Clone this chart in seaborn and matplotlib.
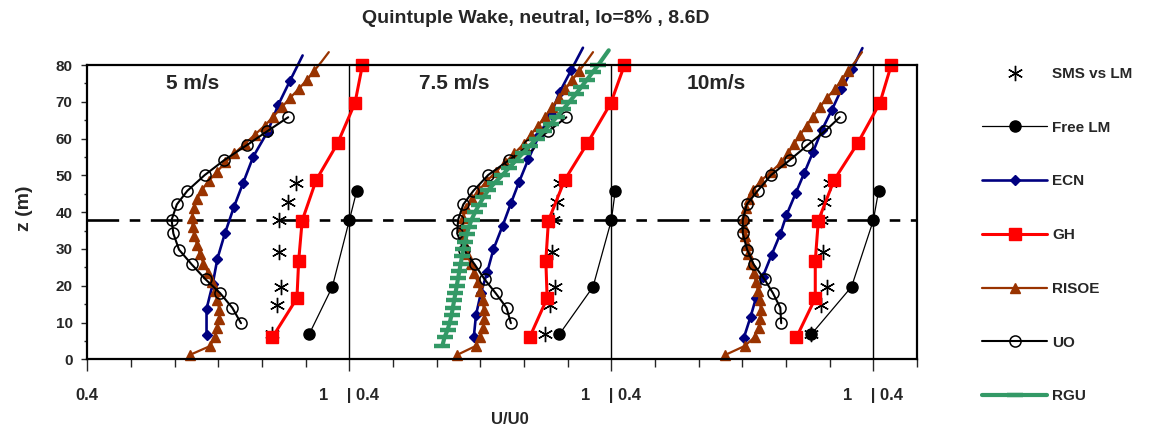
import matplotlib
matplotlib.use("Agg")
import matplotlib.pyplot as plt
from matplotlib.lines import Line2D
import seaborn as sb
import numpy as np

sb.set_style("white")
plt.rcParams['font.family'] = ['Liberation Sans', 'DejaVu Sans']
plt.rcParams['font.weight'] = 'bold'

title = "Quintuple Wake, neutral, Io=8% , 8.6D"
panelNames = ["5 m/s", "7.5 m/s", "10m/s"]
panelShift = [0.0, 0.6, 1.2]
xTickLabels = ["0.4", "1    | 0.4", "1    | 0.4", "1    | 0.4"]
hubHeight = 38

# SMS vs LM (measurements)
smsZ = [47.8, 42.8, 37.8, 29.3, 19.7, 14.8, 6.8]
smsU = [[0.878, 0.860, 0.838, 0.838, 0.844, 0.835, 0.824],
        [0.883, 0.876, 0.866, 0.864, 0.870, 0.860, 0.847],
        [0.900, 0.887, 0.881, 0.885, 0.893, 0.880, 0.858]]

# Free LM
freeZ = [45.8, 37.8, 19.7, 6.8]
freeU = [[1.017, 1.000, 0.961, 0.908],
         [1.009, 1.000, 0.958, 0.881],
         [1.012, 1.000, 0.950, 0.858]]

# ECN
ecnZ = [[6.6, 13.7, 20.4, 27.4, 34.2, 41.5, 48.0, 55.1, 61.9, 69.1, 75.7, 82.6],
        [6.0, 12.0, 17.9, 23.8, 29.9, 36.3, 42.4, 48.3, 54.4, 61.0, 66.8, 72.7, 78.6, 84.7],
        [5.7, 11.6, 16.6, 22.5, 28.4, 34.1, 39.2, 45.1, 50.7, 56.4, 62.3, 67.8, 73.4, 79.0, 84.6]]
ecnU = [[0.673, 0.673, 0.687, 0.698, 0.715, 0.736, 0.757, 0.780, 0.813, 0.837, 0.864, 0.893],
        [0.685, 0.690, 0.701, 0.716, 0.730, 0.751, 0.770, 0.789, 0.810, 0.835, 0.862, 0.882, 0.908, 0.935],
        [0.703, 0.719, 0.731, 0.747, 0.767, 0.787, 0.801, 0.822, 0.842, 0.862, 0.882, 0.905, 0.927, 0.952, 0.975]]

# GH
ghZ = [80.0, 69.7, 58.7, 48.7, 37.7, 26.8, 16.6, 6.0]
ghU = [[1.030, 1.013, 0.973, 0.924, 0.892, 0.884, 0.880, 0.824],
       [1.030, 0.999, 0.945, 0.893, 0.856, 0.850, 0.853, 0.813],
       [1.041, 1.015, 0.964, 0.910, 0.874, 0.867, 0.867, 0.824]]

# RISOE
risZ = [1.2, 3.6, 6.0, 8.5, 11.0, 13.5, 16.0, 18.5, 21.0, 23.5, 26.0, 28.5, 31.0, 33.5, 36.0, 38.5, 41.0,
        43.5, 46.0, 48.5, 51.0, 53.5, 56.0, 58.5, 61.0, 63.5, 66.0, 68.5, 71.0, 73.5, 76.0, 78.5, 81.0, 83.5]
risU = [[0.635, 0.681, 0.692, 0.698, 0.702, 0.702, 0.698, 0.692, 0.685, 0.677, 0.666, 0.658, 0.652, 0.645,
         0.641, 0.640, 0.644, 0.651, 0.662, 0.678, 0.697, 0.716, 0.737, 0.760, 0.783, 0.806, 0.826, 0.845,
         0.864, 0.884, 0.903, 0.920, 0.937, 0.953],
        [0.647, 0.689, 0.700, 0.706, 0.709, 0.708, 0.705, 0.700, 0.694, 0.686, 0.678, 0.670, 0.664, 0.661,
         0.659, 0.660, 0.668, 0.680, 0.697, 0.715, 0.736, 0.757, 0.778, 0.799, 0.815, 0.832, 0.848, 0.864,
         0.880, 0.895, 0.911, 0.927, 0.943, 0.958],
        [0.661, 0.705, 0.728, 0.737, 0.741, 0.742, 0.740, 0.736, 0.731, 0.726, 0.720, 0.714, 0.710, 0.706,
         0.703, 0.703, 0.708, 0.716, 0.725, 0.742, 0.766, 0.789, 0.805, 0.818, 0.832, 0.847, 0.862, 0.877,
         0.893, 0.912, 0.928, 0.943, 0.959, 0.974]]

# UO
uoZ = [9.8, 14.0, 18.0, 21.7, 25.8, 29.8, 34.2, 37.9, 42.1, 45.8, 50.1, 54.1, 58.2, 62.0, 65.8]
uoU = [[0.752, 0.732, 0.704, 0.671, 0.639, 0.610, 0.597, 0.593, 0.605, 0.629, 0.669, 0.713, 0.765, 0.812, 0.860],
       [0.770, 0.760, 0.735, 0.710, 0.687, 0.662, 0.647, 0.649, 0.661, 0.684, 0.718, 0.765, 0.812, 0.856, 0.897],
       [0.789, 0.787, 0.770, 0.751, 0.726, 0.711, 0.701, 0.701, 0.710, 0.735, 0.766, 0.808, 0.849, 0.889, 0.923]]

# RGU (only 7.5 m/s)
rguZ = [3.6, 6, 8, 10, 12, 14, 16, 18, 20, 22, 24, 26, 28, 30, 32, 34, 36, 38, 40, 42, 44, 46, 48, 50,
        52, 54, 56, 58, 60, 62, 64, 66, 68, 70, 72, 74, 76, 78, 80, 82, 84]
rguU = [0.613, 0.618, 0.625, 0.630, 0.634, 0.637, 0.640, 0.643, 0.646, 0.649, 0.652, 0.655, 0.658, 0.661,
        0.665, 0.669, 0.674, 0.680, 0.688, 0.697, 0.707, 0.718, 0.733, 0.750, 0.765, 0.781, 0.797, 0.813,
        0.829, 0.845, 0.861, 0.876, 0.890, 0.904, 0.918, 0.931, 0.944, 0.957, 0.970, 0.982, 0.994]

styles = {
    "SMS vs LM": dict(color="k", ls="none", marker=(6, 2, 0), ms=11, mew=1.0, mec="k"),
    "Free LM": dict(color="k", lw=0.9, marker="o", ms=8, mec="k", mfc="k", mew=1),
    "ECN": dict(color="#000080", lw=1.9, marker="D", ms=5.5, mec="#000080", mfc="#000080", mew=1),
    "GH": dict(color="#ff0000", lw=2.2, marker="s", ms=8, mec="#ff0000", mfc="#ff0000", mew=1),
    "RISOE": dict(color="#993300", lw=1.6, marker="^", ms=6.5, mec="#993300", mfc="#993300", mew=1),
    "UO": dict(color="k", lw=1.5, marker="o", ms=8, mec="k", mfc="none", mew=1.1),
    "RGU": dict(color="#339966", lw=3, marker="_", ms=11, mec="#339966", mew=3.2),
}


def drawSeries(ax, u, z, shift, name):
	x = np.array(u) + shift
	z = np.array(z, dtype=float)
	marks = [i for i in range(len(z)) if z[i] <= 80.5]
	sb.lineplot(x=x, y=z, sort=False, estimator=None, ax=ax, legend=False,
	            markevery=marks, clip_on=False, **styles[name])


fig = plt.figure(figsize=(11.49, 4.32), dpi=100)
ax = fig.add_axes([0.076, 0.1683, 0.7221, 0.6812])

for k, shift in enumerate(panelShift):
	drawSeries(ax, smsU[k], smsZ, shift, "SMS vs LM")
	drawSeries(ax, freeU[k], freeZ, shift, "Free LM")
	drawSeries(ax, ecnU[k], ecnZ[k], shift, "ECN")
	drawSeries(ax, ghU[k], ghZ, shift, "GH")
	drawSeries(ax, risU[k], risZ, shift, "RISOE")
	drawSeries(ax, uoU[k], uoZ, shift, "UO")
	if k == 1:
		drawSeries(ax, rguU, rguZ, shift, "RGU")
	ax.text(0.64 + shift, 75, panelNames[k], ha="center", va="center", fontsize=15, fontweight="bold")
	ax.axvline(1.0 + shift, color="k", lw=1.0, zorder=1)

ax.axhline(hubHeight, color="k", lw=1.9, ls=(0, (12, 4, 4, 4)), zorder=1)

ax.set_xlim(0.4, 2.3)
ax.set_ylim(0, 80)
ax.set_xticks([0.4 + s for s in panelShift] + [2.2])
ax.set_xticklabels(xTickLabels)
ax.set_xticks(np.arange(0.4, 2.31, 0.1), minor=True)
ax.set_yticks(np.arange(0, 81, 10))
ax.set_yticks(np.arange(0, 81, 5), minor=True)
ax.tick_params(axis="x", which="major", direction="out", length=8.5, width=1, pad=12, labelsize=12, bottom=True)
ax.tick_params(axis="x", which="minor", direction="out", length=6, width=1, bottom=True)
ax.tick_params(axis="y", which="major", direction="out", length=4.5, width=1, pad=6, labelsize=11, left=True)
ax.tick_params(axis="y", which="minor", direction="out", length=2, width=1, left=True)
for sp in ax.spines.values():
	sp.set_color("k")
	sp.set_linewidth(1.6)
ax.set_xlabel("")
ax.set_ylabel("")

fig.text(0.4665, 0.958, title, ha="center", va="center", fontsize=14, fontweight="bold")
fig.text(0.444, 0.028, "U/U0", ha="center", va="center", fontsize=12, fontweight="bold")
fig.text(0.021, 0.5185, "z (m)", rotation=90, ha="center", va="center", fontsize=14, fontweight="bold")

handles = [Line2D([], [], **styles[n]) for n in styles]
fig.legend(handles, list(styles.keys()), loc="upper left", bbox_to_anchor=(0.8547, 0.845),
           frameon=False, handlelength=4.25, handletextpad=0.35, labelspacing=2.6,
           borderpad=0, borderaxespad=0, prop={"weight": "bold", "size": 11})

fig.savefig("out.png", dpi=100)
